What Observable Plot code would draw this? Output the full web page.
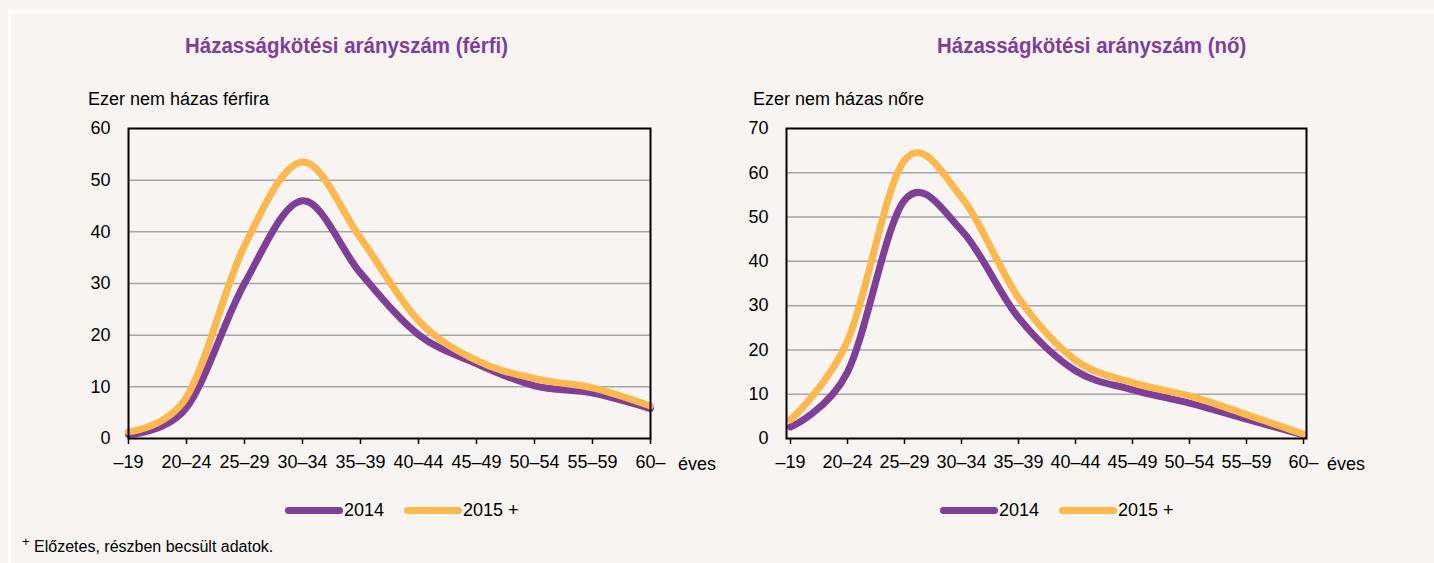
<!DOCTYPE html>
<html>
<head>
<meta charset="utf-8">
<script src="https://cdn.jsdelivr.net/npm/d3@7"></script>
<script src="https://cdn.jsdelivr.net/npm/@observablehq/plot@0.6"></script>
<style>
  html, body { margin: 0; padding: 0; }
  body { width: 1434px; height: 563px; background: #f7f4f1; position: relative; overflow: hidden;
         font-family: "Liberation Sans Narrow", "Arial Narrow", "Liberation Sans", sans-serif; color: #000; }
  .abs { position: absolute; white-space: nowrap; }
  .title { font-weight: bold; font-size: 22px; color: #7f3f98; transform: scaleX(0.93); transform-origin: left center; }
  .ylab { font-size: 18px; }
  .eves { font-size: 18px; }
  .legend { font-size: 18px; display: flex; align-items: center; }
  .legend .sw { display: inline-block; width: 58px; height: 7px; border-radius: 4px; margin-right: 1px; }
  .legend .item { display: flex; align-items: center; margin-right: 20px; }
  .foot { font-size: 16px; }
  .vline { position: absolute; left: 8px; top: 11px; width: 3px; height: 560px; background: #fff; }
  .hline { position: absolute; left: 8px; top: 10px; width: 1430px; height: 3px; background: #fff; }
</style>
</head>
<body>
<div class="vline"></div>
<div class="hline"></div>
<div id="left" class="abs" style="left:0;top:110px"></div>
<div id="right" class="abs" style="left:717px;top:110px"></div>
<div class="abs title" style="left:185px;top:33px">Házasságkötési arányszám (férfi)</div>
<div class="abs title" style="left:937px;top:33px">Házasságkötési arányszám (nő)</div>
<div class="abs ylab" style="left:88px;top:89px">Ezer nem házas férfira</div>
<div class="abs ylab" style="left:753px;top:89px">Ezer nem házas nőre</div>
<div class="abs eves" style="left:678px;top:454px">éves</div>
<div class="abs eves" style="left:1327px;top:454px">éves</div>
<div id="legL" class="abs legend" style="left:285px;top:500px"></div>
<div id="legR" class="abs legend" style="left:940px;top:500px"></div>
<div class="abs foot" style="left:22px;top:534px"><sup style="font-size:13px">+</sup> Előzetes, részben becsült adatok.</div>
<script>
const ages = ["–19", "20–24", "25–29", "30–34", "35–39", "40–44", "45–49", "50–54", "55–59", "60–"];
const seriesNames = ["2014", "2015 +"];
const colors = ["#7f3f98", "#ffb84d"];

const men2014 = [0.8, 6, 30, 46, 32, 20.1, 14.5, 10.2, 8.8, 5.8];
const men2015 = [1.3, 8, 37.3, 53.5, 38.8, 22.8, 15.1, 11.6, 9.8, 6.3];
const women2014 = [2.6, 15, 53.8, 47, 27.3, 15.3, 11, 8, 4.4, 0.8];
const women2015 = [4.2, 22, 62.8, 54.5, 31.8, 17.7, 12.6, 9.6, 5.4, 1.0];

const menTicks = [0, 10, 20, 30, 40, 50, 60];
const womenTicks = [0, 10, 20, 30, 40, 50, 60, 70];

function rows(a, b) {
  const out = [];
  ages.forEach((age, i) => out.push({age, value: a[i], series: seriesNames[0]}));
  ages.forEach((age, i) => out.push({age, value: b[i], series: seriesNames[1]}));
  return out;
}

function chart(data, ticks, margins) {
  const ymax = ticks[ticks.length - 1];
  return Plot.plot({
    width: 717,
    height: 370,
    marginTop: 18,
    marginBottom: 42,
    marginLeft: margins[0],
    marginRight: margins[1],
    style: {background: "transparent", fontFamily: '"Liberation Sans Narrow", "Arial Narrow", sans-serif', fontSize: "18px", color: "#000", overflow: "visible"},
    x: {type: "point", domain: ages, padding: 0, label: null},
    y: {domain: [0, ymax], label: null},
    color: {domain: seriesNames, range: colors},
    marks: [
      Plot.ruleY(ticks.slice(1, -1), {stroke: "#a6a6a6", strokeWidth: 1.5}),
      Plot.line(data, {x: "age", y: "value", z: "series", stroke: "series", strokeWidth: 7, curve: "cardinal", strokeLinecap: "round", strokeLinejoin: "round"}),
      Plot.frame({stroke: "#000", strokeWidth: 2}),
      Plot.axisX({tickSize: 6, tickPadding: 11, stroke: "#000", strokeWidth: 1.5, fontSize: 18}),
      Plot.axisY({ticks, tickSize: 0, tickPadding: 18, fontSize: 18, tickFormat: d => String(d)})
    ]
  });
}

document.getElementById("left").appendChild(chart(rows(men2014, men2015), menTicks, [128, 67]));
document.getElementById("right").appendChild(chart(rows(women2014, women2015), womenTicks, [69, 128]));

function legend(el) {
  seriesNames.forEach((s, i) => {
    const item = document.createElement("span");
    item.className = "item";
    const sw = document.createElement("span");
    sw.className = "sw";
    sw.style.background = colors[i];
    item.appendChild(sw);
    const t = document.createElement("span");
    t.textContent = s;
    item.appendChild(t);
    el.appendChild(item);
  });
}
legend(document.getElementById("legL"));
legend(document.getElementById("legR"));
</script>
</body>
</html>
